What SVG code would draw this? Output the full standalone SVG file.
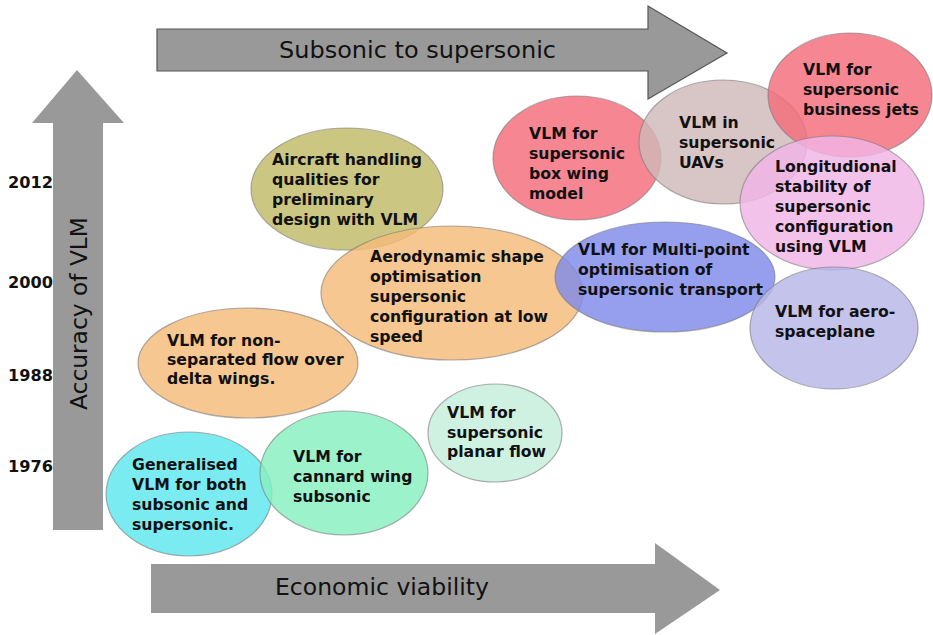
<svg xmlns="http://www.w3.org/2000/svg" width="933" height="635" viewBox="0 0 933 635">
<style>
.bg{fill:#ffffff}
.arrow{fill:#999999}
.arrowS{fill:#999999;stroke:#555555;stroke-width:1.2}
.axis{font-family:"DejaVu Sans",Verdana,sans-serif;font-size:23px;fill:#111111}
.year{font-family:"DejaVu Sans",Verdana,sans-serif;font-weight:bold;font-size:16.5px;fill:#111111}
.node ellipse{stroke:#7a7a7a;stroke-opacity:0.6;stroke-width:1.2;fill-opacity:0.82}
.node text{font-family:"DejaVu Sans",Verdana,sans-serif;font-weight:bold;font-size:15.7px;fill:#111111}
</style>
<rect class="bg" x="0" y="0" width="933" height="635"/>
<g id="connectors">
  <g id="axis-top">
    <polygon class="arrowS" points="157,29 648,29 648,6 727,53 648,99 648,71 157,71"/>
    <text class="axis" x="279" y="58" textLength="277" lengthAdjust="spacingAndGlyphs">Subsonic to supersonic</text>
  </g>
  <g id="axis-left">
    <polygon class="arrow" points="53,530 53,123 32,123 77,70 124,123 103,123 103,530"/>
    <text class="axis" transform="translate(87,410) rotate(-90)" x="0" y="0" textLength="193" lengthAdjust="spacingAndGlyphs">Accuracy of VLM</text>
  </g>
  <g id="axis-bottom">
    <polygon class="arrow" points="151,564 655,564 655,543 720,590 655,634 655,613 151,613"/>
    <text class="axis" x="275" y="595" textLength="214" lengthAdjust="spacingAndGlyphs">Economic viability</text>
  </g>
  <g id="years">
    <text class="year" x="8" y="188" textLength="45" lengthAdjust="spacingAndGlyphs">2012</text>
    <text class="year" x="8" y="288" textLength="45" lengthAdjust="spacingAndGlyphs">2000</text>
    <text class="year" x="8" y="381" textLength="45" lengthAdjust="spacingAndGlyphs">1988</text>
    <text class="year" x="8" y="472" textLength="45" lengthAdjust="spacingAndGlyphs">1976</text>
  </g>
</g>
<g id="n-nonsep" class="node">
  <ellipse cx="248" cy="363" rx="110" ry="55" fill="#f4bb78"/>
  <text x="167" y="346">VLM for non-</text>
  <text x="167" y="365">separated flow over</text>
  <text x="167" y="384">delta wings.</text>
</g>
<g id="n-aircraft" class="node">
  <ellipse cx="347" cy="189" rx="96" ry="61" fill="#c0bb68"/>
  <text x="272" y="165">Aircraft handling</text>
  <text x="272" y="185">qualities for</text>
  <text x="272" y="205">preliminary</text>
  <text x="272" y="225">design with VLM</text>
</g>
<g id="n-aero" class="node">
  <ellipse cx="452" cy="293" rx="131" ry="67" fill="#f4bb78"/>
  <text x="370" y="262">Aerodynamic shape</text>
  <text x="370" y="282">optimisation</text>
  <text x="370" y="302">supersonic</text>
  <text x="370" y="322">configuration at low</text>
  <text x="370" y="342">speed</text>
</g>
<g id="n-planar" class="node">
  <ellipse cx="495" cy="433" rx="67" ry="49" fill="#c4eedb"/>
  <text x="447" y="418">VLM for</text>
  <text x="447" y="438">supersonic</text>
  <text x="447" y="457">planar flow</text>
</g>
<g id="n-general" class="node">
  <ellipse cx="189" cy="494" rx="83" ry="62" fill="#5ce6ee"/>
  <text x="132" y="470">Generalised</text>
  <text x="132" y="490">VLM for both</text>
  <text x="132" y="510">subsonic and</text>
  <text x="132" y="530">supersonic.</text>
</g>
<g id="n-cannard" class="node">
  <ellipse cx="344" cy="473" rx="84" ry="62" fill="#86efc0"/>
  <text x="293" y="462">VLM for</text>
  <text x="293" y="482">cannard wing</text>
  <text x="293" y="502">subsonic</text>
</g>
<g id="n-boxwing" class="node">
  <ellipse cx="577" cy="158" rx="84" ry="62" fill="#f46c7a"/>
  <text x="529" y="139">VLM for</text>
  <text x="529" y="159">supersonic</text>
  <text x="529" y="179">box wing</text>
  <text x="529" y="199">model</text>
</g>
<g id="n-uav" class="node">
  <ellipse cx="723" cy="142" rx="84" ry="62" fill="#d0b8b8"/>
  <text x="679" y="128">VLM in</text>
  <text x="679" y="148">supersonic</text>
  <text x="679" y="168">UAVs</text>
</g>
<g id="n-bizjet" class="node">
  <ellipse cx="850" cy="95" rx="82" ry="62" fill="#f46c7a"/>
  <text x="803" y="75">VLM for</text>
  <text x="803" y="95">supersonic</text>
  <text x="803" y="115">business jets</text>
</g>
<g id="n-longit" class="node">
  <ellipse cx="832" cy="203" rx="92" ry="67" fill="#f0b4e6"/>
  <text x="775" y="172">Longitudional</text>
  <text x="775" y="192">stability of</text>
  <text x="775" y="212">supersonic</text>
  <text x="775" y="232">configuration</text>
  <text x="775" y="252">using VLM</text>
</g>
<g id="n-multipoint" class="node">
  <ellipse cx="665" cy="277" rx="110" ry="55" fill="#7f8aea"/>
  <text x="578" y="255">VLM for Multi-point</text>
  <text x="578" y="275">optimisation of</text>
  <text x="578" y="295">supersonic transport</text>
</g>
<g id="n-spaceplane" class="node">
  <ellipse cx="834" cy="328" rx="84" ry="61" fill="#b6b6e8"/>
  <text x="775" y="317">VLM for aero-</text>
  <text x="775" y="337">spaceplane</text>
</g>
</svg>
